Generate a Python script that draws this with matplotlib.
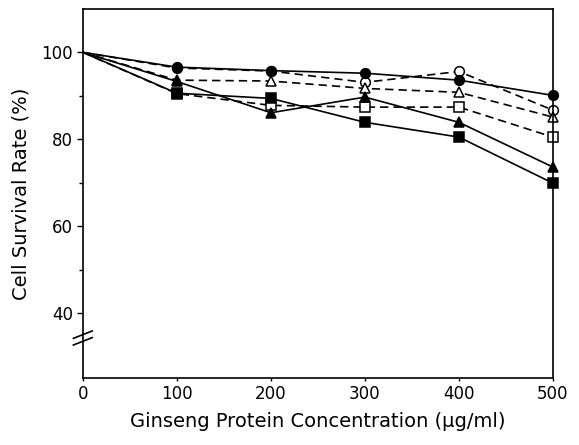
import matplotlib.pyplot as plt
from matplotlib.ticker import FixedLocator

conc = [0, 100, 200, 300, 400, 500]

filled_circle = [100, 96.6, 95.8, 95.2, 93.6, 90.1]
filled_triangle = [100, 93.3, 86.1, 89.7, 83.9, 73.6]
filled_square = [100, 90.6, 89.4, 83.9, 80.5, 69.9]
open_circle = [100, 96.4, 95.7, 93.1, 95.6, 86.7]
open_triangle = [100, 93.6, 93.4, 91.7, 90.8, 85.1]
open_square = [100, 90.5, 87.8, 87.4, 87.4, 80.5]

series = [
    (open_circle, 'o', 'white', '--'),
    (open_triangle, '^', 'white', '--'),
    (open_square, 's', 'white', '--'),
    (filled_circle, 'o', 'black', '-'),
    (filled_triangle, '^', 'black', '-'),
    (filled_square, 's', 'black', '-'),
]

fig = plt.figure(figsize=(5.79, 4.45), dpi=100)
ax = fig.add_axes([0.143, 0.15, 0.812, 0.83])

for vals, mk, fc, ls in series:
    ax.plot(conc, vals, linestyle=ls, color='black', linewidth=1.2,
            marker=mk, markersize=7, markerfacecolor=fc,
            markeredgecolor='black', markeredgewidth=1.1,
            markevery=list(range(1, len(conc))),
            dashes=(5, 3) if ls == '--' else (None, None), clip_on=False)

ax.set_xlim(0, 500)
ax.set_ylim(25, 110)
ax.set_xticks(conc)
ax.set_yticks([40, 60, 80, 100])
ax.yaxis.set_minor_locator(FixedLocator([50, 70, 90]))
ax.tick_params(axis='both', which='major', direction='out', length=4,
               width=1, labelsize=12, pad=3)
ax.tick_params(axis='y', which='minor', direction='out', length=3, width=1)
ax.tick_params(axis='x', which='major', length=2)

for sp in ax.spines.values():
    sp.set_linewidth(1.2)

# axis break on y
for dy in (0, 0.018):
    ax.plot([-0.02, 0.02], [0.09 + dy, 0.11 + dy], transform=ax.transAxes,
            color='black', linewidth=1.2, clip_on=False)

lab_font = dict(family=['DejaVu Sans'], fontsize=14)
ax.set_xlabel('Ginseng Protein Concentration (\u03bcg/ml)', labelpad=6, **lab_font)
ax.set_ylabel('Cell Survival Rate (%)', labelpad=8, **lab_font)

fig.savefig('out.png', dpi=100)
